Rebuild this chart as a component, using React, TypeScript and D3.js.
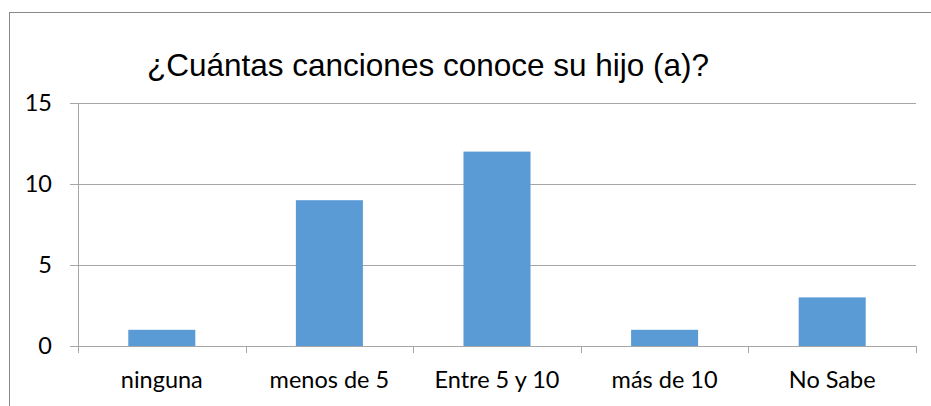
import React from "react";
import * as d3 from "d3";

const categories = ["ninguna", "menos de 5", "Entre 5 y 10", "más de 10", "No Sabe"];
const values = [1, 9, 12, 1, 3];
const yTicks = [0, 5, 10, 15];
const title = "¿Cuántas canciones conoce su hijo (a)?";

const W = 931;
const H = 406;
const left = 78;
const right = 916;
const top = 103;
const bottom = 346;

export default function App() {
  const x = d3.scaleBand<string>().domain(categories).range([left, right]).paddingInner(0.6).paddingOuter(0.3);
  const xb = d3.scaleBand<string>().domain(categories).range([left, right]);
  const y = d3.scaleLinear().domain([0, 15]).range([bottom, top]);
  const grid = "#A6A6A6";
  const labelFont = "Lato, 'Open Sans', sans-serif";
  return (
    <svg width={W} height={H} style={{ position: "absolute", left: 0, top: 0 }}>
      <rect x={0} y={0} width={W} height={H} fill="#fff" />
      <line x1={9.5} y1={12} x2={9.5} y2={H} stroke="#898989" strokeWidth={1} />
      <line x1={9} y1={12.5} x2={W} y2={12.5} stroke="#898989" strokeWidth={1} />
      <text x={147} y={76} fontFamily="'Liberation Sans', Arial, sans-serif" fontSize={31.5} fill="#000">
        {title}
      </text>
      {yTicks.map((t) => (
        <g key={t}>
          <line x1={70} x2={right} y1={Math.round(y(t)) + 0.5} y2={Math.round(y(t)) + 0.5} stroke={grid} strokeWidth={1} />
          <text x={52} y={y(t)} dy="0.36em" textAnchor="end" fontFamily={labelFont} fontSize={23.5} fill="#000">
            {t}
          </text>
        </g>
      ))}
      <line x1={left + 0.5} x2={left + 0.5} y1={top} y2={bottom} stroke={grid} strokeWidth={1} />
      {categories.map((c, i) => (
        <rect key={c} x={x(c)} y={y(values[i])} width={x.bandwidth()} height={y(0) - y(values[i])} fill="#5B9BD5" />
      ))}
      {[...categories.map((c) => xb(c) as number), right].map((tx, i) => (
        <line key={i} x1={Math.round(tx) + 0.5} x2={Math.round(tx) + 0.5} y1={bottom} y2={353} stroke={grid} strokeWidth={1} />
      ))}
      {categories.map((c) => (
        <text key={c} x={(xb(c) as number) + xb.bandwidth() / 2} y={388} textAnchor="middle" fontFamily={labelFont} fontSize={23.5} fill="#000">
          {c}
        </text>
      ))}
    </svg>
  );
}
